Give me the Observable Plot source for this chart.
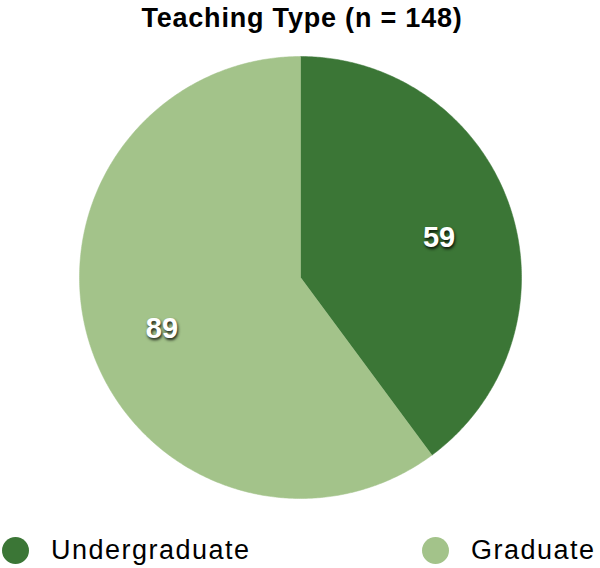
<!DOCTYPE html>
<html>
<head>
<meta charset="utf-8">
<script src="https://cdn.jsdelivr.net/npm/d3@7"></script>
<script src="https://cdn.jsdelivr.net/npm/@observablehq/plot@0.6"></script>
<style>
  html, body { margin: 0; padding: 0; background: #fff; width: 600px; height: 568px; overflow: hidden; }
  body { font-family: "Liberation Sans", Arial, Helvetica, sans-serif; }
  #title { height: 40px; line-height: 36px; text-align: center; font-weight: bold; font-size: 27px; letter-spacing: 0.8px; color: #000; padding-left: 4px; }
  #chart svg { display: block; }
  #chart g[aria-label="text"] text { text-shadow: 1px 2px 3px rgba(0,0,0,0.85); }
  #legend { position: relative; height: 48px; }
  .item { position: absolute; top: 6px; height: 48px; display: flex; align-items: center; font-size: 27px; letter-spacing: 1.5px; color: #000; }
  .sw { width: 27px; height: 27px; border-radius: 50%; margin-right: 22px; }
</style>
</head>
<body>
<div id="title"></div>
<div id="chart"></div>
<div id="legend"></div>
<script>
const chartTitle = "Teaching Type (n = 148)";
const categories = ["Undergraduate", "Graduate"];
const counts = [59, 89];
const colors = ["#3b7636", "#a3c38a"];
const legendLeft = [2, 422];

document.getElementById("title").textContent = chartTitle;

const rows = categories.map((c, i) => ({name: c, count: counts[i]}));
const arcs = d3.pie().sort(null).value(d => d.count)(rows);

const wedgePoints = [];
for (const a of arcs) {
  const n = Math.ceil((a.endAngle - a.startAngle) / (2 * Math.PI) * 720);
  wedgePoints.push({name: a.data.name, x: 0, y: 0});
  for (let k = 0; k <= n; k++) {
    const t = a.startAngle + (a.endAngle - a.startAngle) * k / n;
    wedgePoints.push({name: a.data.name, x: Math.sin(t), y: Math.cos(t)});
  }
  wedgePoints.push({name: a.data.name, x: 0, y: 0});
}

const labels = arcs.map(a => {
  const m = (a.startAngle + a.endAngle) / 2;
  return {name: a.data.name, value: a.data.count, x: 0.66 * Math.sin(m), y: 0.66 * Math.cos(m)};
});

const plot = Plot.plot({
  width: 600,
  height: 480,
  marginTop: 16,
  marginBottom: 22,
  marginLeft: 79,
  marginRight: 79,
  x: {domain: [-1, 1], axis: null},
  y: {domain: [-1, 1], axis: null},
  color: {domain: categories, range: colors},
  style: {fontFamily: "'Liberation Sans', Arial, sans-serif", background: "#fff"},
  marks: [
    Plot.line(wedgePoints, {x: "x", y: "y", z: "name", fill: "name", stroke: "name", strokeWidth: 0.5}),
    Plot.text(labels, {x: "x", y: "y", dy: 6, text: d => String(d.value), fill: "#fff", fontSize: 29, fontWeight: "bold"})
  ]
});
document.getElementById("chart").appendChild(plot);

const legend = document.getElementById("legend");
categories.forEach((c, i) => {
  const item = document.createElement("div");
  item.className = "item";
  item.style.left = legendLeft[i] + "px";
  const sw = document.createElement("div");
  sw.className = "sw";
  sw.style.background = colors[i];
  const lab = document.createElement("span");
  lab.textContent = c;
  item.appendChild(sw);
  item.appendChild(lab);
  legend.appendChild(item);
});
</script>
</body>
</html>
